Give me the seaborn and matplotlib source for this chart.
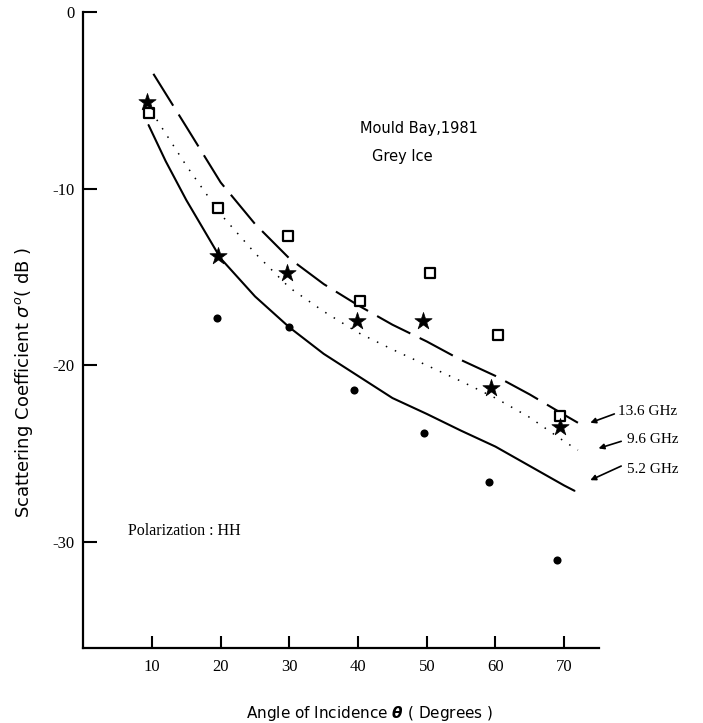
"""
mould_bay_grey_ice.py — Coeficiente de retrodispersión vs ángulo de incidencia
Mould Bay 1981, hielo gris, polarización HH (13.6 / 9.6 / 5.2 GHz)
"""

import matplotlib
matplotlib.use("Agg")
import matplotlib.pyplot as plt
import seaborn as sns

# ─── Datos ────────────────────────────────────────────────────────────────────
# Medidas (marcadores)
angle_136 = [9.5, 19.65, 29.8, 40.3, 50.5, 60.3, 69.4]
sigma_136 = [-5.7, -11.1, -12.7, -16.35, -14.8, -18.3, -22.85]

angle_96 = [9.3, 19.65, 29.6, 39.9, 49.5, 59.4, 69.4]
sigma_96 = [-5.1, -13.8, -14.75, -17.5, -17.5, -21.3, -23.5]

angle_52 = [19.4, 29.9, 39.4, 49.6, 59.1, 69.0]
sigma_52 = [-17.3, -17.85, -21.4, -23.85, -26.6, -31.0]

# Curvas ajustadas
fit_x_136 = [10.2, 15, 20, 25, 30, 35, 40, 45, 50, 55, 60, 65, 70, 72]
fit_y_136 = [-3.5, -6.5, -9.65, -12.0, -13.95, -15.4, -16.6, -17.7, -18.65, -19.7,
             -20.6, -21.65, -22.8, -23.25]

fit_x_96 = [10.7, 15, 20, 25, 30, 35, 40, 45, 50, 55, 60, 65, 70, 72]
fit_y_96 = [-6.1, -8.7, -11.45, -13.65, -15.6, -16.95, -18.15, -19.1, -20.0, -20.9,
            -21.85, -22.95, -24.3, -24.8]

fit_x_52 = [9.5, 12, 15, 20, 25, 30, 35, 40, 45, 50, 55, 60, 65, 70, 71.5]
fit_y_52 = [-6.4, -8.45, -10.65, -13.95, -16.1, -17.85, -19.35, -20.6, -21.85, -22.75,
            -23.7, -24.6, -25.7, -26.8, -27.1]

x_ticks = [10, 20, 30, 40, 50, 60, 70]
y_ticks = [0, -10, -20, -30]

freq_labels = ["13.6 GHz", "9.6 GHz", "5.2 GHz"]

INK = "black"
SERIF = ["Liberation Serif", "DejaVu Serif"]
SANS = ["DejaVu Sans", "Liberation Sans"]

sns.set_theme(style="white", rc={
    "axes.spines.top": False,
    "axes.spines.right": False,
    "axes.edgecolor": INK,
    "axes.linewidth": 1.6,
    "xtick.direction": "in",
    "ytick.direction": "in",
    "xtick.bottom": True,
    "ytick.left": True,
})
plt.rcParams["font.family"] = SANS


def main():
    fig = plt.figure(figsize=(7.03, 7.23), dpi=100)
    ax = fig.add_axes([0.1185, 0.1037, 0.7329, 0.8797])

    # curvas
    sns.lineplot(x=fit_x_136, y=fit_y_136, ax=ax, color=INK, linewidth=1.5,
                 linestyle=(0, (18, 5)), sort=False)
    sns.lineplot(x=fit_x_96, y=fit_y_96, ax=ax, color=INK, linewidth=1.1,
                 linestyle=(0, (1, 5.5)), sort=False)
    sns.lineplot(x=fit_x_52, y=fit_y_52, ax=ax, color=INK, linewidth=1.5, sort=False)

    # medidas
    sns.scatterplot(x=angle_136, y=sigma_136, ax=ax, marker="s", s=55,
                    facecolor="white", edgecolor=INK, linewidth=1.6, zorder=4)
    sns.scatterplot(x=angle_96, y=sigma_96, ax=ax, marker="*", s=170,
                    color=INK, edgecolor=INK, linewidth=0.5, zorder=5)
    sns.scatterplot(x=angle_52, y=sigma_52, ax=ax, marker="o", s=34,
                    color=INK, edgecolor=INK, linewidth=0, zorder=5)

    ax.set_xlim(0, 75)
    ax.set_ylim(-36, 0)
    ax.set_xticks(x_ticks)
    ax.set_yticks(y_ticks)
    ax.set_xticklabels([str(t) for t in x_ticks], family=SERIF, fontsize=12)
    ax.set_yticklabels(["0" if t == 0 else "-" + str(abs(t)) for t in y_ticks],
                       family=SERIF, fontsize=12)
    ax.tick_params(axis="x", bottom=True, length=9, width=1.5, pad=8, colors=INK)
    ax.tick_params(axis="y", left=True, length=10, width=1.5, pad=6, colors=INK)

    ax.set_xlabel(r"Angle of Incidence $\boldsymbol{\theta}$ ( Degrees )",
                  fontsize=11, color=INK)
    ax.xaxis.set_label_coords(0.556, -0.088)
    ax.set_ylabel(r"Scattering Coefficient $\sigma^o$( dB )",
                  fontsize=13, color=INK)
    ax.yaxis.set_label_coords(-0.094, 0.417)

    # anotaciones
    ax.text(40.3, -6.6, "Mould Bay,1981", fontsize=10.5, color=INK, va="center")
    ax.text(42.0, -8.2, "Grey Ice", fontsize=10.5, color=INK, va="center")
    ax.text(6.5, -29.4, "Polarization : HH", family=SERIF, fontsize=11.5,
            color=INK, va="center")

    # etiquetas de frecuencia con flechas
    label_pos = [(77.8, -22.6), (79.1, -24.2), (79.1, -25.9)]
    arrow_tip = [(73.8, -23.25), (75.0, -24.7), (73.8, -26.5)]
    arrow_tail = [(77.3, -22.75), (78.3, -24.3), (78.3, -25.7)]
    for lab, (tx, ty), tip, tail in zip(freq_labels, label_pos, arrow_tip, arrow_tail):
        ax.text(tx, ty, lab, family=SERIF, fontsize=11, color=INK,
                va="center", clip_on=False)
        ax.annotate("", xy=tip, xytext=tail, annotation_clip=False,
                    arrowprops=dict(arrowstyle="-|>", color=INK, lw=1.2,
                                    mutation_scale=8, shrinkA=0, shrinkB=0))

    fig.savefig("out.png", dpi=100)
    plt.close(fig)


if __name__ == "__main__":
    main()
